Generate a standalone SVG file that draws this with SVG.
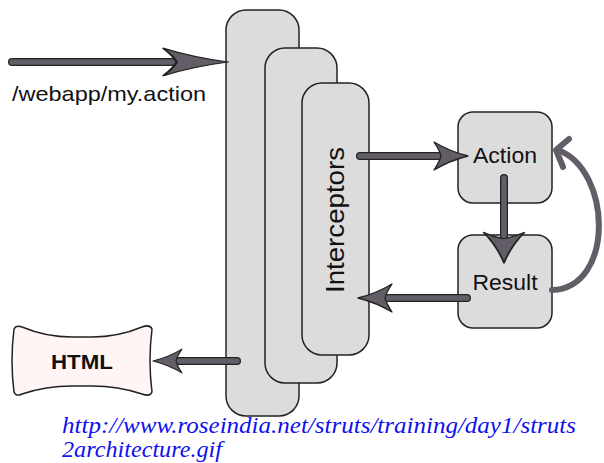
<svg xmlns="http://www.w3.org/2000/svg" width="604" height="463" viewBox="0 0 604 463">
  <style>
    .layer { fill: #dcdcdc; stroke: #222; stroke-width: 1.5; }
    .box { fill: #dcdcdc; stroke: #222; stroke-width: 1.5; }
    .lbl { font-family: "Liberation Sans", Arial, sans-serif; fill: #111; }
    .shaft-out { stroke: #222; stroke-width: 8; stroke-linecap: round; fill: none; }
    .shaft-in { stroke: #625d66; stroke-width: 5.5; stroke-linecap: round; fill: none; }
    .head { fill: #625d66; stroke: #222; stroke-width: 1.3; stroke-linejoin: round; }
    .link { font-family: "Liberation Serif", "Times New Roman", serif; font-style: italic; fill: #1010ee; font-size: 24px; }
  </style>
  <defs>
    <!-- arrowhead pointing +x, tip at origin -->
    <path id="head" d="M0,0 C-12,-3 -24,-8 -34,-14 C-30,-8 -28,-4 -27,0 C-28,4 -30,8 -34,14 C-24,8 -12,3 0,0 Z"/>
  </defs>
  <rect width="604" height="463" fill="#fff"/>

  <!-- stacked framework layers -->
  <g id="layer-outer">
    <rect class="layer" x="226" y="10" width="73" height="406" rx="20"/>
  </g>
  <g id="layer-middle">
    <rect class="layer" x="265" y="48" width="72" height="335" rx="20"/>
  </g>
  <g id="interceptors">
    <rect class="layer" x="302" y="83" width="67" height="272" rx="20"/>
    <text class="lbl" font-size="25" text-anchor="middle" textLength="146" lengthAdjust="spacingAndGlyphs" transform="translate(344,220) rotate(-90)">Interceptors</text>
  </g>

  <g id="action">
    <rect class="box" x="458" y="112" width="94" height="91" rx="15"/>
    <text class="lbl" x="505" y="163" font-size="22" text-anchor="middle" textLength="64" lengthAdjust="spacingAndGlyphs">Action</text>
  </g>
  <g id="result">
    <rect class="box" x="458" y="235" width="94" height="93" rx="15"/>
    <text class="lbl" x="505" y="290" font-size="22" text-anchor="middle" textLength="65" lengthAdjust="spacingAndGlyphs">Result</text>
  </g>

  <g id="html">
    <path d="M14,329 Q16,325 22,327 Q46,337 72,337 L92,337 Q118,337 142,327 Q150,324 152,329 Q148,361 152,392 Q150,397 142,394 Q118,386 92,386 L72,386 Q46,386 22,394 Q16,397 14,392 Q10,361 14,329 Z" fill="#fff5f5" stroke="#222" stroke-width="1.5"/>
    <text class="lbl" x="82" y="369" font-size="21" font-weight="bold" text-anchor="middle" textLength="62" lengthAdjust="spacingAndGlyphs">HTML</text>
  </g>

  <text class="lbl" x="12" y="101" font-size="21" textLength="194" lengthAdjust="spacingAndGlyphs">/webapp/my.action</text>

  <g id="connectors">
    <!-- request into the framework -->
    <line class="shaft-out" x1="12" y1="62" x2="190" y2="62"/>
    <line class="shaft-in" x1="12" y1="62" x2="190" y2="62"/>
    <use href="#head" class="head" transform="translate(228,62) scale(1.9,0.98)"/>

    <!-- interceptors to action -->
    <line class="shaft-out" x1="360" y1="156" x2="442" y2="156"/>
    <line class="shaft-in" x1="360" y1="156" x2="442" y2="156"/>
    <use href="#head" class="head" transform="translate(468,156)"/>

    <!-- action to result -->
    <line class="shaft-out" x1="504" y1="178" x2="504" y2="238"/>
    <line class="shaft-in" x1="504" y1="178" x2="504" y2="238"/>
    <use href="#head" class="head" transform="translate(504,263) rotate(90) scale(0.9,1.45)"/>

    <!-- result back to interceptors -->
    <line class="shaft-out" x1="467" y1="298" x2="384" y2="298"/>
    <line class="shaft-in" x1="467" y1="298" x2="384" y2="298"/>
    <use href="#head" class="head" transform="translate(358,298) rotate(180)"/>

    <!-- response to HTML -->
    <line class="shaft-out" x1="237" y1="361" x2="175" y2="361"/>
    <line class="shaft-in" x1="237" y1="361" x2="175" y2="361"/>
    <use href="#head" class="head" transform="translate(153,361) rotate(180) scale(0.85)"/>

    <!-- result loops back to action -->
    <path d="M552,290 C615,288 612,170 558,150" fill="none" stroke="#625d66" stroke-width="6" stroke-linecap="round"/>
    <path d="M569,139 L556,150 L563,167" fill="none" stroke="#625d66" stroke-width="6" stroke-linecap="round" stroke-linejoin="round"/>
  </g>

  <text class="link" x="62" y="433" textLength="514" lengthAdjust="spacingAndGlyphs">http://www.roseindia.net/struts/training/day1/struts</text>
  <text class="link" x="62" y="457" textLength="160" lengthAdjust="spacingAndGlyphs">2architecture.gif</text>
</svg>
